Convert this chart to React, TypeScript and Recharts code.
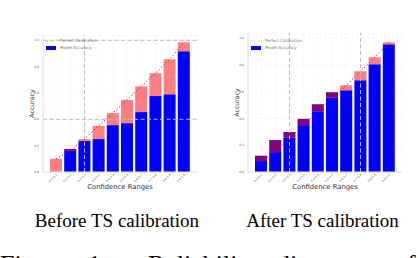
import { ComposedChart, Bar, Line, XAxis, YAxis, CartesianGrid, ReferenceLine, Label } from 'recharts'

const bins = ['0.0-0.1', '0.1-0.2', '0.2-0.3', '0.3-0.4', '0.4-0.5', '0.5-0.6', '0.6-0.7', '0.7-0.8', '0.8-0.9', '0.9-1.0']
const yTicks = [0, 0.2, 0.4, 0.6, 0.8, 1.0]

// before temperature scaling
const accBefore = [0, 0.175, 0.235, 0.25, 0.356, 0.371, 0.455, 0.576, 0.59, 0.917]
const confBefore = [0.1, 0.16, 0.25, 0.35, 0.447, 0.548, 0.65, 0.75, 0.856, 0.985]

// after temperature scaling
const accAfter = [0.122, 0.239, 0.299, 0.398, 0.507, 0.597, 0.612, 0.687, 0.806, 0.955]
const confAfter = [0.082, 0.149, 0.256, 0.351, 0.455, 0.555, 0.649, 0.754, 0.858, 0.97]

const sans = '"DejaVu Sans", sans-serif'

const makeRows = (acc: number[], conf: number[]) =>
  bins.map((b, i) => ({
    bin: b,
    base: Math.min(acc[i], conf[i]),
    gap: Math.max(0, conf[i] - acc[i]),
    over: Math.max(0, acc[i] - conf[i]),
    conf: conf[i],
  }))

const LegendBox = ({ left, top }: { left: number; top: number }) => (
  <div style={{ position: 'absolute', left, top, fontFamily: sans, fontSize: 4, color: '#777', lineHeight: '7px' }}>
    <div style={{ display: 'flex', alignItems: 'center' }}>
      <svg width={11} height={4} style={{ marginRight: 3 }}>
        <line x1={0} y1={2} x2={11} y2={2} stroke="#cccccc" strokeDasharray="2 1.5" strokeWidth={0.8} />
      </svg>
      <span>Perfect Calibration</span>
    </div>
    <div style={{ display: 'flex', alignItems: 'center' }}>
      <div style={{ width: 10, height: 4, background: '#0000ff', marginRight: 4 }} />
      <span>Model Accuracy</span>
    </div>
  </div>
)

const Reliability = ({ acc, conf, refX, refY, top }: { acc: number[]; conf: number[]; refX: string[]; refY: number[]; top: number }) => {
  const rows = makeRows(acc, conf)
  return (
    <ComposedChart width={209} height={200} data={rows} margin={{ top, right: 12, bottom: 16, left: 33 }}>
      <CartesianGrid stroke="#f3f3f3" strokeDasharray="2 2" />
      <XAxis
        dataKey="bin"
        height={12}
        padding={{ left: 6, right: 6 }}
        stroke="#e2e2e2"
        tickLine={false}
        tickSize={0}
        tickMargin={1.5}
        interval={0}
        angle={-45}
        textAnchor="end"
        tick={{ fontSize: 3, fill: '#555', fontFamily: sans }}
      >
        <Label
          content={({ viewBox }: any) => (
            <text x={viewBox.x + viewBox.width / 2} y={187 + 2.4} textAnchor="middle" fontSize={6.8} fill="#333" fontFamily={sans}>
              Confidence Ranges
            </text>
          )}
        />
      </XAxis>
      <YAxis
        width={10}
        domain={[0, 1.04]}
        ticks={yTicks}
        stroke="#e2e2e2"
        tickLine={false}
        tickSize={0}
        tickMargin={4}
        tickFormatter={(v: number) => v.toFixed(1)}
        tick={{ fontSize: 3, fill: '#555', fontFamily: sans }}
      >
        <Label
          content={({ viewBox }: any) => {
            const cx = viewBox.x + 1
            const cy = viewBox.y + viewBox.height / 2
            return (
              <text x={cx} y={cy} transform={`rotate(-90 ${cx} ${cy})`} textAnchor="middle" fontSize={6.2} fill="#333" fontFamily={sans}>
                Accuracy
              </text>
            )
          }}
        />
      </YAxis>
      <Bar dataKey="base" stackId="a" fill="#0000ff" barSize={12} isAnimationActive={false} />
      <Bar dataKey="over" stackId="a" fill="#800080" barSize={12} isAnimationActive={false} />
      <Bar dataKey="gap" stackId="a" fill="#ff8080" barSize={12} isAnimationActive={false} />
      <Line dataKey="conf" type="linear" stroke="#ff0000" strokeWidth={1} strokeDasharray="1.2 2.2" dot={false} isAnimationActive={false} />
      {refX.map((x) => (
        <ReferenceLine key={x} x={x} stroke="#bbbbbb" strokeDasharray="4 2.5" strokeWidth={1} />
      ))}
      {refY.map((y) => (
        <ReferenceLine key={y} y={y} stroke="#bbbbbb" strokeDasharray="4 2.5" strokeWidth={1} />
      ))}
    </ComposedChart>
  )
}

const capStyle = { position: 'absolute' as const, top: 252, fontSize: 26, lineHeight: '26px', whiteSpace: 'nowrap' as const }

export default function App() {
  return (
    <div style={{ position: 'absolute', left: 0, top: 0, width: 418, height: 258, background: '#fff', overflow: 'hidden', fontFamily: '"Liberation Serif", "Times New Roman", serif', color: '#000' }}>
      <div style={{ position: 'absolute', left: 0, top: 0 }}>
        <Reliability acc={accBefore} conf={confBefore} refX={[bins[2]]} refY={[0.4, 1.0]} top={35} />
      </div>
      <LegendBox left={46} top={37} />
      <div style={{ position: 'absolute', left: 205, top: 0 }}>
        <Reliability acc={accAfter} conf={confAfter} refX={[bins[2], bins[7]]} refY={[]} top={33} />
      </div>
      <LegendBox left={251} top={37} />
      <div style={{ position: 'absolute', left: 0, width: 234, top: 211, fontSize: 19, lineHeight: '19px', textAlign: 'center' }}>Before TS calibration</div>
      <div style={{ position: 'absolute', left: 245, width: 155, top: 211, fontSize: 19, lineHeight: '19px', textAlign: 'center', whiteSpace: 'nowrap' }}>After TS calibration</div>
      <div style={{ ...capStyle, left: 0 }}>Figure</div>
      <div style={{ ...capStyle, left: 88 }}>1:</div>
      <div style={{ ...capStyle, left: 148 }}>Reliability</div>
      <div style={{ ...capStyle, left: 277 }}>diagrams</div>
      <div style={{ ...capStyle, left: 394 }}>of</div>
    </div>
  )
}
